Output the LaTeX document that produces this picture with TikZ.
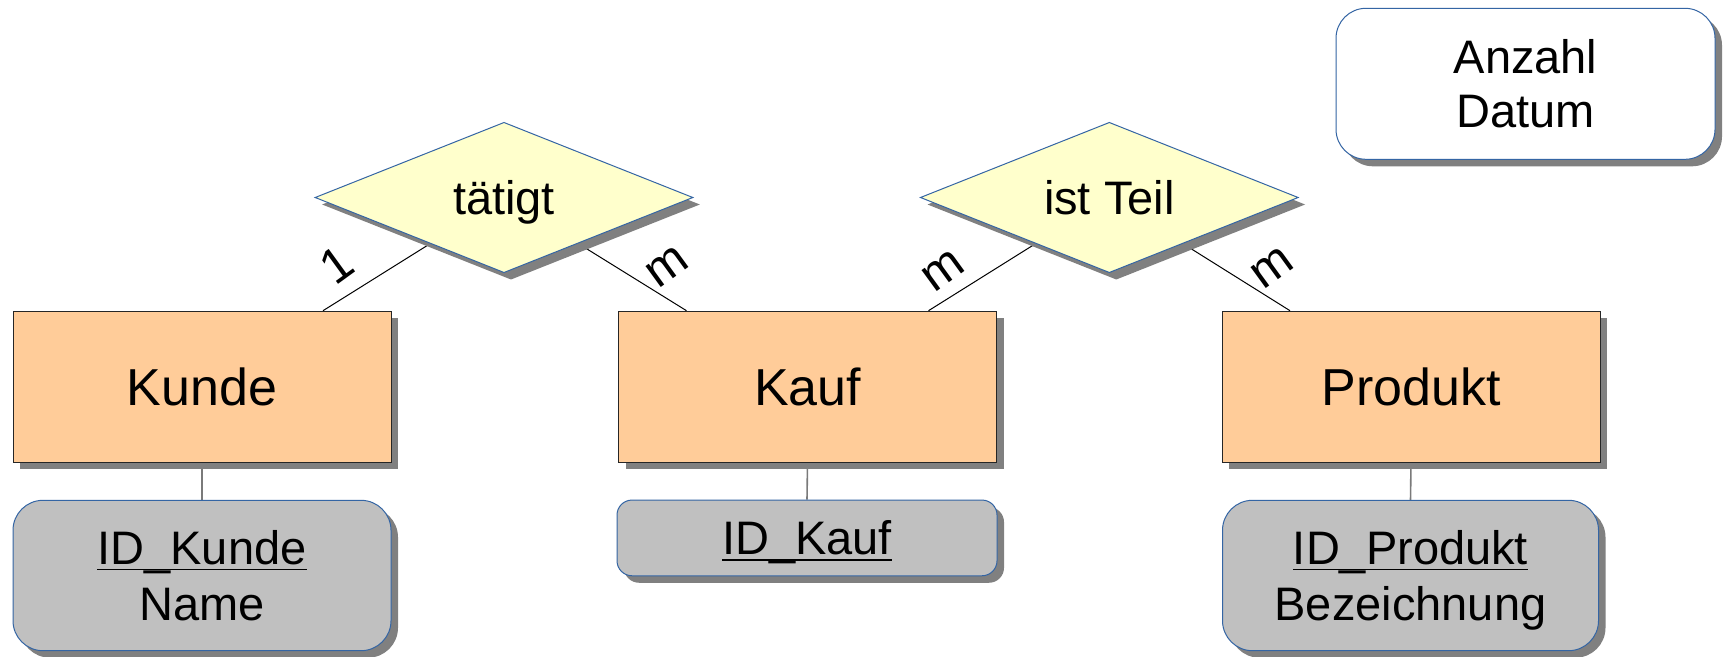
\documentclass[tikz,border=0pt]{standalone}
\usepackage{fontspec}
\setmainfont{Liberation Sans}
\usetikzlibrary{shapes.geometric,shadows,backgrounds}

\definecolor{entityfill}{HTML}{FFCC99}
\definecolor{relfill}{HTML}{FFFFCC}
\definecolor{attrfill}{HTML}{C0C0C0}
\definecolor{outline}{HTML}{3465A4}
\definecolor{shadowgray}{HTML}{808080}
\definecolor{linkgray}{HTML}{7A7A7A}

% key attribute: underlined at a fixed depth below the baseline
\newcommand\keyattr[1]{\setbox0\hbox{#1}\rlap{\rule[-0.125em]{\wd0}{0.035em}}\box0}
% two centred lines, baseline on the last line
\newcommand\twolines[2]{\begin{tabular}[b]{@{}c@{}}#1\\#2\end{tabular}}

\tikzset{
  boxshadow/.style={drop shadow={shadow xshift=7pt,shadow yshift=-7pt,fill=shadowgray,opacity=1}},
  bigtext/.style={font=\fontsize{52}{60}\selectfont},
  smalltext/.style={font=\fontsize{47}{56}\selectfont},
  entity/.style={rectangle, draw=black!85, line width=1pt, fill=entityfill,
    minimum width=378pt, minimum height=151pt, inner sep=0pt,
    bigtext, text height=37.2pt, text depth=0pt, boxshadow},
  relation/.style={diamond, aspect=2.513, draw=outline, line width=1pt, fill=relfill,
    minimum width=378pt, minimum height=150.4pt, inner sep=0pt,
    smalltext, text height=33.65pt, text depth=0pt, boxshadow},
  attrbox/.style={rectangle, rounded corners=30pt, draw=outline, line width=1pt,
    fill=attrfill, minimum width=378pt, minimum height=150.4pt, inner sep=0pt,
    smalltext, text height=89.65pt, text depth=0pt, boxshadow},
  notebox/.style={attrbox, fill=white, minimum width=379pt, minimum height=151pt,
    font=\fontsize{47}{53.3}\selectfont, text height=86.95pt},
  card/.style={inner sep=0pt, font=\fontsize{49}{56}\selectfont, rotate=36},
  relline/.style={draw=black, line width=1pt},
  attrline/.style={draw=linkgray, line width=1.6pt},
}

\begin{document}
\begin{tikzpicture}[x=1pt,y=-1pt]
\useasboundingbox (0,0) rectangle (1726,656);

% entities
\node[entity] (kunde)   at (202,386.7)  {Kunde};
\node[entity] (kauf)    at (807.5,386.7) {Kauf};
\node[entity] (produkt) at (1411,386.7) {Produkt};

% relationships
\node[relation] (taetigt) at (504,197.5)   {tätigt};
\node[relation] (istteil) at (1109.3,197.5) {ist Teil};

% attribute lists
\node[attrbox] (kundeattr) at (202,575.5)
  {\twolines{\keyattr{ID\_Kunde}}{Name}};
\node[attrbox, minimum width=380pt, minimum height=75.7pt, rounded corners=15pt,
      text height=33.65pt] (kaufattr) at (807,537.9) {\keyattr{ID\_Kauf}};
\node[attrbox, minimum width=376pt] (produktattr) at (1410.5,575.5)
  {\twolines{\keyattr{ID\_Produkt}}{Bezeichnung}};

% attributes of the purchase relationship
\node[notebox] (kaufdaten) at (1525.5,83.8) {\twolines{Anzahl}{Datum}};

% cardinalities
\node[card] (card-kunde)   at (336.7,265) {1};
\node[card] (card-kauf-l)  at (667,267)   {m};
\node[card] (card-kauf-r)  at (943,271)   {m};
\node[card] (card-produkt) at (1272,268)  {m};

% connectors behind the shapes
\begin{scope}[on background layer]
  \fill[white] (0,0) rectangle (1726,656);
  \draw[relline] (taetigt.center) -- ([xshift=121pt]kunde.north);
  \draw[relline] (taetigt.center) -- ([xshift=-121pt]kauf.north);
  \draw[relline] (istteil.center) -- ([xshift=121pt]kauf.north);
  \draw[relline] (istteil.center) -- ([xshift=-121pt]produkt.north);
  \draw[attrline] (kunde.south)   -- (kundeattr.north);
  \draw[attrline] (kauf.south)    -- (kaufattr.north);
  \draw[attrline] (produkt.south) -- (produktattr.north);
\end{scope}
\end{tikzpicture}
\end{document}
